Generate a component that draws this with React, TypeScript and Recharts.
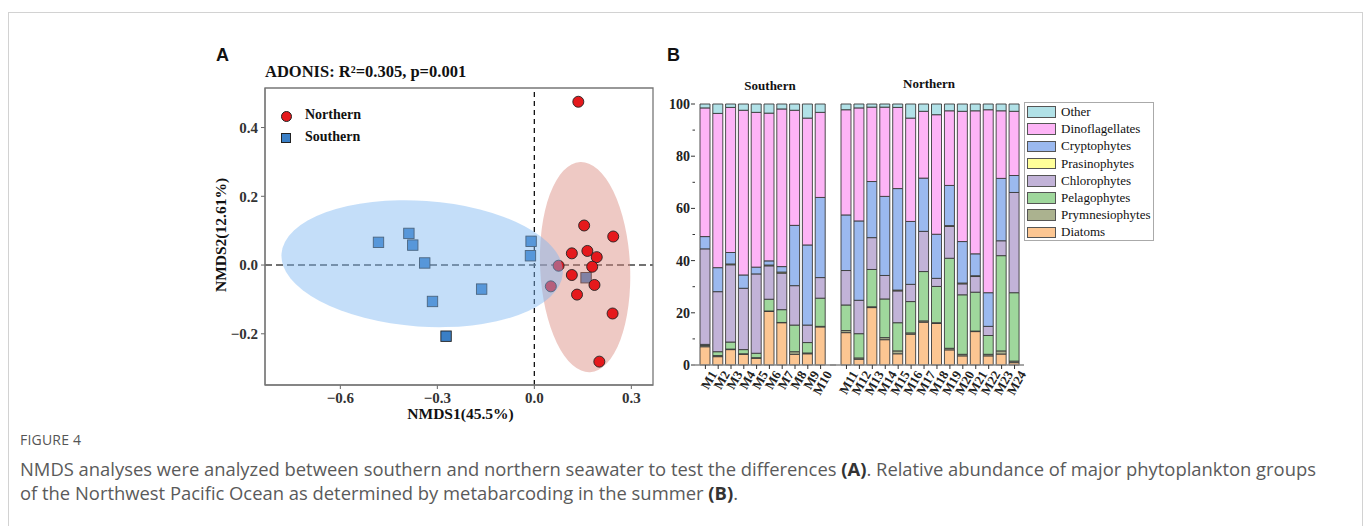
import React from "react";
import {
    ScatterChart,
    Scatter,
    XAxis,
    YAxis,
    ReferenceLine,
    ReferenceArea,
    BarChart,
    Bar,
} from "recharts";

const SERIF = "'Times New Roman', 'Liberation Serif', serif";
const SANS = "Arial, 'Liberation Sans', sans-serif";
const CAPTION = "'Open Sans', 'Noto Sans', sans-serif";

// ---- panel A: NMDS scores ----
const northernX = [0.136, 0.154, 0.244, 0.116, 0.164, 0.193, 0.179, 0.075, 0.116, 0.186, 0.051, 0.132, 0.242, 0.201];
const northernY = [0.475, 0.115, 0.083, 0.034, 0.041, 0.023, -0.005, -0.002, -0.029, -0.058, -0.062, -0.086, -0.141, -0.281];
const southernX = [-0.482, -0.388, -0.376, -0.339, -0.315, -0.163, -0.273, -0.01, -0.012, 0.16];
const southernY = [0.066, 0.092, 0.058, 0.006, -0.106, -0.07, -0.207, 0.069, 0.027, -0.037];

// confidence ellipses: centre, semi axes (data units), tilt (deg)
const southernEllipse = { cx: -0.347, cy: 0.004, rx: 0.436, ry: 0.183, angle: 4 };
const northernEllipse = { cx: 0.157, cy: -0.006, rx: 0.139, ry: 0.306, angle: -2.7 };

const xDomain = [-0.833, 0.367];
const yDomain = [-0.349, 0.515];
const xTicks = [-0.6, -0.3, 0, 0.3];
const yTicks = [-0.2, 0, 0.2, 0.4];

// ---- panel B: relative abundance (%) ----
const sites = ["M1", "M2", "M3", "M4", "M5", "M6", "M7", "M8", "M9", "M10", "M11", "M12", "M13", "M14", "M15", "M16", "M17", "M18", "M19", "M20", "M21", "M22", "M23", "M24"];
const diatoms = [7.0, 3.2, 5.9, 4.1, 2.6, 20.5, 16.2, 4.1, 4.3, 14.6, 12.4, 2.2, 22.0, 9.7, 4.3, 11.8, 16.4, 15.9, 5.8, 3.5, 12.8, 3.5, 4.2, 0.9];
const prymnesiophytes = [0.5, 0.4, 0.2, 0.2, 0.2, 0.2, 0.1, 1.0, 0.3, 0.2, 0.8, 0.5, 0.3, 0.8, 1.1, 0.5, 0.5, 0.3, 0.6, 0.6, 0.2, 0.6, 1.2, 0.6];
const pelagophytes = [0.4, 1.5, 2.7, 1.6, 1.7, 4.5, 4.9, 10.2, 4.0, 10.8, 9.8, 9.3, 14.3, 14.8, 10.8, 12.0, 18.9, 13.9, 34.5, 22.8, 14.9, 7.2, 36.5, 26.2];
const chlorophytes = [36.6, 23.0, 29.6, 23.5, 30.4, 12.8, 14.0, 15.1, 6.7, 7.9, 13.2, 12.8, 12.2, 9.0, 12.2, 6.6, 15.4, 3.1, 12.2, 4.2, 6.0, 3.5, 5.7, 38.4];
const prasinophytes = [0, 0, 0.3, 0, 0, 0.3, 0.4, 0, 0, 0, 0, 0, 0, 0, 0.3, 0, 0, 0, 0.3, 0.3, 0.3, 0, 0, 0];
const cryptophytes = [4.7, 9.2, 4.4, 5.1, 2.6, 1.6, 2.1, 23.1, 30.7, 30.7, 21.3, 30.4, 21.5, 30.3, 38.9, 24.1, 20.4, 16.9, 15.4, 15.9, 8.4, 12.9, 23.9, 6.5];
const dinoflagellates = [49.3, 59.1, 55.6, 63.1, 59.3, 56.6, 60.4, 44.1, 48.6, 32.6, 40.3, 43.3, 28.5, 34.2, 31.1, 39.6, 25.6, 45.8, 28.6, 49.9, 54.8, 70.1, 25.9, 24.6];
const other = [1.5, 3.6, 1.3, 2.4, 3.2, 3.5, 1.9, 2.4, 5.4, 3.2, 2.2, 1.5, 1.2, 1.2, 1.3, 5.4, 2.8, 4.1, 2.6, 2.8, 2.6, 2.2, 2.6, 2.8];

const groups = ["Diatoms", "Prymnesiophytes", "Pelagophytes", "Chlorophytes", "Prasinophytes", "Cryptophytes", "Dinoflagellates", "Other"];
const groupValues = [diatoms, prymnesiophytes, pelagophytes, chlorophytes, prasinophytes, cryptophytes, dinoflagellates, other];
const groupColors = ["#fcc692", "#abb28f", "#9fd79c", "#c2b3d8", "#ffff99", "#9bb9ef", "#fdb4f6", "#b1e1e7"];
const pctTicks = [0, 10, 20, 30, 40, 50, 60, 70, 80, 90, 100];

const table = sites.map((site, i) => {
    const row: any = { site };
    groups.forEach((g, k) => {
        row[g] = groupValues[k][i];
    });
    return row;
});
const southernRows = table.slice(0, 10);
const northernRows = table.slice(10);

const northernPts = northernX.map((x, i) => ({ x, y: northernY[i] }));
const southernPts = southernX.map((x, i) => ({ x, y: southernY[i] }));

const fmt = (v: number) => (v < 0 ? "\u2212" + Math.abs(v).toFixed(1) : v.toFixed(1));

const tickFont = { fill: "#333", fontSize: 15, fontWeight: "bold", fontFamily: SERIF };

const Circle = (p: any) => (
    <circle cx={p.cx} cy={p.cy} r={5.5} fill="#e5191c" stroke="#222" strokeWidth={0.9} />
);
const Square = (p: any) => (
    <rect x={p.cx - 5.2} y={p.cy - 5.2} width={10.4} height={10.4} fill="#3a7fc6" stroke="#222" strokeWidth={0.9} />
);

const ellipseShape = (angle: number, fill: string) => (p: any) => {
    const cx = p.x + p.width / 2;
    const cy = p.y + p.height / 2;
    return (
        <ellipse
            cx={cx}
            cy={cy}
            rx={Math.abs(p.width) / 2}
            ry={Math.abs(p.height) / 2}
            transform={`rotate(${angle} ${cx} ${cy})`}
            fill={fill}
            fillOpacity={0.45}
            stroke="none"
        />
    );
};

const SiteTick = (p: any) => (
    <g transform={`translate(${p.x},${p.y})`}>
        <line x1={0} y1={0} x2={0} y2={4} stroke="#333" strokeWidth={1} />
        <text
            transform="translate(12,9) rotate(-60)"
            textAnchor="end"
            fontSize={13}
            fontWeight="bold"
            fontFamily={SERIF}
            fill="#222"
        >
            {p.payload.value}
        </text>
    </g>
);

const PctTick = (p: any) => {
    const v = p.payload.value;
    const major = v % 20 === 0;
    return (
        <g>
            <line x1={p.x - (major ? 4 : 2.5)} x2={p.x} y1={p.y} y2={p.y} stroke="#333" strokeWidth={1} />
            {major && (
                <text x={p.x - 5} y={p.y} dy="0.35em" textAnchor="end" fontSize={14} fontWeight="bold" fontFamily={SERIF} fill="#222">
                    {v}
                </text>
            )}
        </g>
    );
};

function NmdsPanel() {
    return (
        <ScatterChart width={470} height={390} margin={{ top: 48, right: 17, bottom: 0, left: 15 }}>
            <XAxis
                type="number"
                dataKey="x"
                domain={xDomain}
                ticks={xTicks}
                tickFormatter={fmt}
                allowDataOverflow
                height={45}
                tickSize={4}
                tickMargin={3}
                stroke="#666"
                tick={tickFont}
            />
            <YAxis
                type="number"
                dataKey="y"
                domain={yDomain}
                ticks={yTicks}
                tickFormatter={fmt}
                allowDataOverflow
                width={50}
                tickSize={4}
                tickMargin={3}
                stroke="#666"
                tick={tickFont}
            />
            <ReferenceLine x={0} stroke="#111" strokeWidth={1.3} strokeDasharray="5 4" />
            <ReferenceLine y={0} stroke="#444" strokeWidth={1.6} strokeDasharray="7 4" />
            <Scatter data={southernPts} shape={Square} isAnimationActive={false} zIndex={600} />
            <ReferenceArea
                x1={northernEllipse.cx - northernEllipse.rx}
                x2={northernEllipse.cx + northernEllipse.rx}
                y1={northernEllipse.cy - northernEllipse.ry}
                y2={northernEllipse.cy + northernEllipse.ry}
                ifOverflow="visible"
                shape={ellipseShape(northernEllipse.angle, "#d9877c")}
                zIndex={650}
            />
            <Scatter data={northernPts} shape={Circle} isAnimationActive={false} zIndex={700} />
            <ReferenceArea
                x1={southernEllipse.cx - southernEllipse.rx}
                x2={southernEllipse.cx + southernEllipse.rx}
                y1={southernEllipse.cy - southernEllipse.ry}
                y2={southernEllipse.cy + southernEllipse.ry}
                ifOverflow="visible"
                shape={ellipseShape(southernEllipse.angle, "#7cb6f2")}
                zIndex={750}
            />
            <ReferenceArea
                x1={xDomain[0]}
                x2={xDomain[1]}
                y1={yDomain[0]}
                y2={yDomain[1]}
                ifOverflow="visible"
                fill="none"
                fillOpacity={0}
                stroke="#777"
                strokeWidth={1.3}
                zIndex={800}
            />
        </ScatterChart>
    );
}

function StackBars({ rows, showY, padL, padR, margin, width }: any) {
    return (
        <BarChart width={width} height={310} data={rows} margin={margin} barSize={10}>
            <XAxis
                dataKey="site"
                interval={0}
                height={35}
                tickSize={0}
                tickMargin={0}
                tickLine={false}
                stroke="#888"
                strokeWidth={1.5}
                padding={{ left: padL, right: padR }}
                tick={<SiteTick />}
            />
            <YAxis
                type="number"
                domain={[0, 100]}
                ticks={pctTicks}
                interval={0}
                hide={!showY}
                width={55}
                axisLine={false}
                tickLine={false}
                tickSize={0}
                tickMargin={0}
                tick={<PctTick />}
            />
            {groups.map((g, k) => (
                <Bar
                    key={g}
                    dataKey={g}
                    stackId="a"
                    fill={groupColors[k]}
                    stroke="#3a3a3a"
                    strokeWidth={0.9}
                    isAnimationActive={false}
                />
            ))}
        </BarChart>
    );
}

const abs = (left: number, top: number, extra: any = {}) => ({ position: "absolute" as const, left, top, ...extra });

export default function App() {
    const legendOrder = [...groups].reverse();
    const legendColors = [...groupColors].reverse();
    return (
        <div style={{ position: "absolute", left: 0, top: 0, width: 1372, height: 526, overflow: "hidden", background: "#fff" }}>
            <div style={abs(8, 12, { width: 1355, height: 600, border: "1px solid #d2d2d2", boxSizing: "border-box" })} />

            <div style={abs(216, 45, { fontFamily: SANS, fontWeight: "bold", fontSize: 18, color: "#111" })}>A</div>
            <div style={abs(667, 45, { fontFamily: SANS, fontWeight: "bold", fontSize: 18, color: "#111" })}>B</div>

            <div style={abs(265, 62, { fontFamily: SERIF, fontWeight: "bold", fontSize: 16.5, color: "#111", whiteSpace: "nowrap" })}>
                ADONIS: R²=0.305, p=0.001
            </div>

            <div style={abs(200, 40)}>
                <NmdsPanel />
            </div>

            {/* legend A */}
            <div style={abs(280.5, 110.5, { width: 11, height: 11, borderRadius: "50%", background: "#e5191c", border: "1px solid #222", boxSizing: "border-box" })} />
            <div style={abs(281, 132.5, { width: 10.4, height: 10.4, background: "#3a7fc6", border: "1px solid #222", boxSizing: "border-box" })} />
            <div style={abs(305, 106.5, { fontFamily: SERIF, fontWeight: "bold", fontSize: 14, color: "#111" })}>Northern</div>
            <div style={abs(305, 128.5, { fontFamily: SERIF, fontWeight: "bold", fontSize: 14, color: "#111" })}>Southern</div>

            <div style={abs(403, 405, { width: 115, textAlign: "center", fontFamily: SERIF, fontWeight: "bold", fontSize: 15.5, color: "#111", whiteSpace: "nowrap" })}>
                NMDS1(45.5%)
            </div>
            <div
                style={abs(161, 226, {
                    width: 120,
                    textAlign: "center",
                    fontFamily: SERIF,
                    fontWeight: "bold",
                    fontSize: 15.5,
                    color: "#111",
                    whiteSpace: "nowrap",
                    transform: "rotate(-90deg)",
                })}
            >
                NMDS2(12.61%)
            </div>

            {/* panel B */}
            <div style={abs(720, 78, { width: 100, textAlign: "center", fontFamily: SERIF, fontWeight: "bold", fontSize: 13, color: "#111" })}>Southern</div>
            <div style={abs(879, 76, { width: 100, textAlign: "center", fontFamily: SERIF, fontWeight: "bold", fontSize: 13, color: "#111" })}>Northern</div>

            <div style={abs(640, 90)}>
                <StackBars rows={southernRows} width={200} showY padL={4} padR={9} margin={{ top: 14, right: 4, left: 0, bottom: 0 }} />
            </div>
            <div style={abs(826, 90)}>
                <StackBars rows={northernRows} width={212} showY={false} padL={10} padR={3} margin={{ top: 14, right: 14, left: 4, bottom: 0 }} />
            </div>

            <div style={abs(1024, 102, { width: 130, height: 139, border: "1px solid #aaa", boxSizing: "border-box", background: "#fff" })}>
                {legendOrder.map((g, k) => (
                    <div key={g} style={{ position: "absolute", left: 2, top: 3 + k * 17.2, height: 12, display: "flex", alignItems: "center" }}>
                        <div style={{ width: 29, height: 11.5, background: legendColors[k], border: "1px solid #555", boxSizing: "border-box" }} />
                        <span style={{ marginLeft: 5, fontFamily: SERIF, fontSize: 13, color: "#111", whiteSpace: "nowrap" }}>{g}</span>
                    </div>
                ))}
            </div>

            {/* caption */}
            <div style={abs(20, 430, { fontFamily: CAPTION, fontSize: 14, color: "#555", letterSpacing: 0.2 })}>FIGURE 4</div>
            <div style={abs(20, 457, { fontFamily: CAPTION, fontSize: 18.4, lineHeight: "24px", color: "#5a5a5a", whiteSpace: "nowrap" })}>
                NMDS analyses were analyzed between southern and northern seawater to test the differences <b style={{ color: "#333" }}>(A)</b>. Relative
                abundance of major phytoplankton groups
                <br />
                of the Northwest Pacific Ocean as determined by metabarcoding in the summer <b style={{ color: "#333" }}>(B)</b>.
            </div>
        </div>
    );
}
